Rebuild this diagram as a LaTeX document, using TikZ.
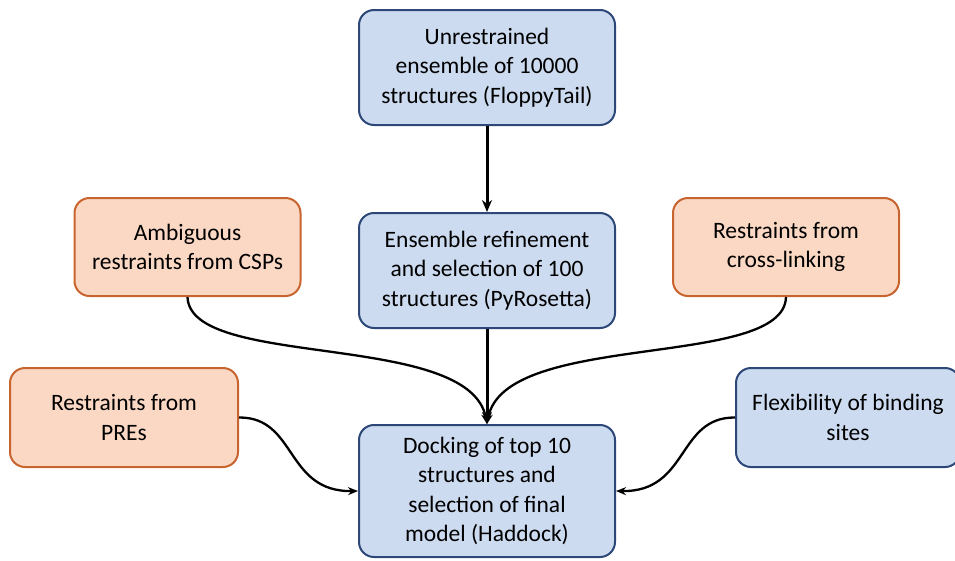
\documentclass[tikz,border=0pt]{standalone}
\usepackage{fontspec}
\setmainfont{Carlito}
\usetikzlibrary{arrows.meta}
\definecolor{bfill}{RGB}{204,219,239}
\definecolor{bdraw}{RGB}{45,72,120}
\definecolor{ofill}{RGB}{250,216,196}
\definecolor{odraw}{RGB}{200,100,45}
\tikzset{
  box/.style={rounded corners=15pt, line width=2pt, align=center, inner sep=0pt,
    font=\fontsize{23.5}{29.5}\selectfont},
  bbox/.style={box, fill=bfill, draw=bdraw},
  obox/.style={box, fill=ofill, draw=odraw},
  thick arrow/.style={line width=3pt, -{Stealth[length=12pt,width=10pt]}},
  curve arrow/.style={line width=2.3pt, -{Stealth[length=10pt,width=8pt]}},
}
\begin{document}
\begin{tikzpicture}[x=1pt,y=-1pt]
\useasboundingbox (0,0) rectangle (955,560);
\node[bbox, minimum width=256pt, minimum height=115pt] (A) at (487,67.5)
  {Unrestrained\\ensemble of 10000\\structures (FloppyTail)};
\node[bbox, minimum width=256pt, minimum height=115pt] (B) at (487,270.5)
  {Ensemble refinement\\and selection of 100\\structures (PyRosetta)};
\node[bbox, minimum width=256pt, minimum height=132pt] (C) at (487,491)
  {Docking of top 10\\structures and\\selection of final\\model (Haddock)};
\node[obox, minimum width=226pt, minimum height=98pt] (csp) at (187.5,247)
  {Ambiguous\\restraints from CSPs};
\node[obox, minimum width=228pt, minimum height=99pt] (pre) at (124,417.5)
  {Restraints from\\PREs};
\node[obox, minimum width=226pt, minimum height=98pt] (xl) at (786,247)
  {Restraints from\\cross-linking};
\node[bbox, minimum width=224pt, minimum height=99pt] (flex) at (848,417.5)
  {Flexibility of binding\\sites};
\draw[thick arrow] (A.south) -- (B.north);
\draw[thick arrow] (B.south) -- (C.north);
\draw[curve arrow] (csp.south) .. controls (190,370) and (470,330) .. (C.north);
\draw[curve arrow] (xl.south) .. controls (784,370) and (504,330) .. (C.north);
\draw[curve arrow] (pre.east) .. controls (297,417) and (285,492) .. (C.west);
\draw[curve arrow] (flex.west) .. controls (677,417) and (689,492) .. (C.east);
\end{tikzpicture}
\end{document}
